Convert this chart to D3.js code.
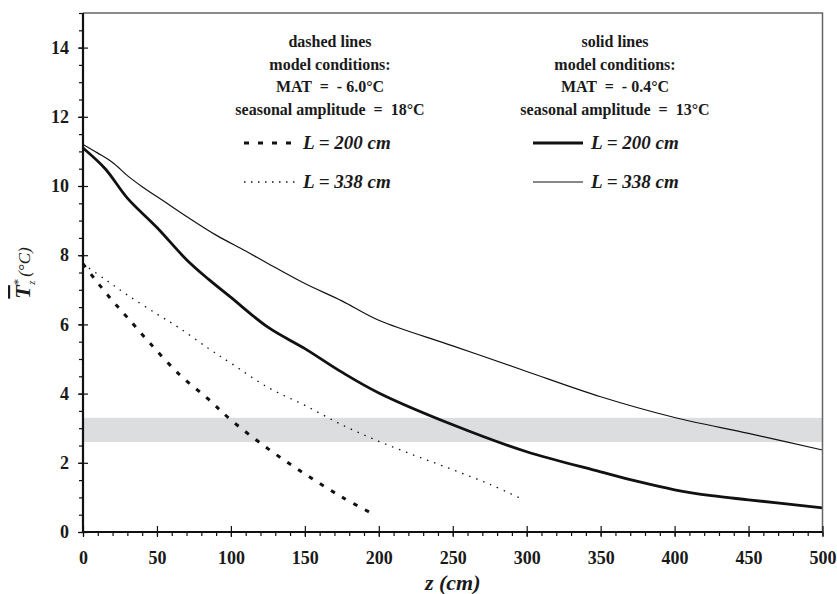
<!DOCTYPE html>
<html>
<head>
<meta charset="utf-8">
<script src="https://cdn.jsdelivr.net/npm/d3@7"></script>
<style>
body { margin: 0; background: #fff; }
text { font-family: "Liberation Serif", "Times New Roman", serif; fill: #1a1a1a; }
</style>
</head>
<body>
<svg id="chart" width="837" height="594"></svg>
<script>
// depth (cm) and mean temperature (°C)
var zSolid200 = [0, 15, 30, 50, 70, 85, 100, 125, 150, 175, 200, 250, 300, 350, 375, 400, 425, 450, 500];
var tSolid200 = [11.1, 10.5, 9.65, 8.8, 7.87, 7.3, 6.78, 5.92, 5.3, 4.62, 4.02, 3.1, 2.32, 1.74, 1.46, 1.22, 1.05, 0.93, 0.7];

var zSolid338 = [0, 10, 20, 30, 40, 55, 70, 90, 110, 125, 150, 175, 200, 250, 300, 350, 400, 450, 500];
var tSolid338 = [11.2, 10.95, 10.68, 10.3, 9.98, 9.55, 9.12, 8.58, 8.12, 7.76, 7.18, 6.68, 6.12, 5.38, 4.64, 3.91, 3.31, 2.85, 2.37];

var zDashed200 = [0, 10, 20, 30, 45, 65, 85, 100, 125, 150, 175, 197];
var tDashed200 = [7.75, 7.2, 6.68, 6.2, 5.47, 4.56, 3.83, 3.24, 2.41, 1.68, 1.01, 0.5];

var zDashed338 = [0, 15, 30, 50, 65, 85, 100, 125, 150, 175, 200, 225, 250, 275, 298];
var tDashed338 = [7.75, 7.3, 6.85, 6.3, 5.9, 5.3, 4.88, 4.18, 3.66, 3.1, 2.62, 2.2, 1.8, 1.38, 0.93];

var bandRange = [2.6, 3.3];
var xTicks = [0, 50, 100, 150, 200, 250, 300, 350, 400, 450, 500];
var yTicks = [0, 2, 4, 6, 8, 10, 12, 14];

var leftHeader = ['dashed lines', 'model conditions:', 'MAT  =  - 6.0°C', 'seasonal amplitude  =  18°C'];
var rightHeader = ['solid lines', 'model conditions:', 'MAT  =  - 0.4°C', 'seasonal amplitude  =  13°C'];
var legendLabels = ['L = 200 cm', 'L = 338 cm'];

var svg = d3.select('#chart');
var margin = {top: 13, right: 14.5, bottom: 62, left: 83};
var W = 837, H = 594;

var x = d3.scaleLinear().domain([0, 500]).range([margin.left, W - margin.right]);
var y = d3.scaleLinear().domain([0, 15]).range([H - margin.bottom, margin.top]);

// grey band
svg.append('rect')
	.attr('x', x(0))
	.attr('y', y(bandRange[1]))
	.attr('width', x(500) - x(0))
	.attr('height', y(bandRange[0]) - y(bandRange[1]))
	.attr('fill', '#dcdddf');

// curves
var series = [
	{z: zSolid338, t: tSolid338, w: 1.2, dash: null},
	{z: zSolid200, t: tSolid200, w: 2.8, dash: null},
	{z: zDashed338, t: tDashed338, w: 1.3, dash: '1.5,6'},
	{z: zDashed200, t: tDashed200, w: 3, dash: '4.5,8.5'}
];

var line = d3.line()
	.x(function (d) { return x(d[0]); })
	.y(function (d) { return y(d[1]); })
	.curve(d3.curveCatmullRom.alpha(0.5));

svg.selectAll('path.curve')
	.data(series)
	.enter().append('path')
	.attr('class', 'curve')
	.attr('d', function (s) { return line(d3.zip(s.z, s.t)); })
	.attr('fill', 'none')
	.attr('stroke', '#111')
	.attr('stroke-width', function (s) { return s.w; })
	.attr('stroke-dasharray', function (s) { return s.dash; });

// frame: thin top/right, heavy left/bottom
svg.append('path')
	.attr('d', 'M' + x(0) + ',' + y(15) + 'H' + x(500) + 'V' + y(0))
	.attr('fill', 'none')
	.attr('stroke', '#666')
	.attr('stroke-width', 1.5);

// minor ticks
var xMinor = d3.range(0, 501, 10);
var yMinor = d3.range(0, 15.01, 0.5);

svg.append('g')
	.attr('transform', 'translate(0,' + y(0) + ')')
	.call(d3.axisBottom(x).tickValues(xMinor).tickSize(4).tickFormat(''))
	.call(function (g) { g.select('.domain').remove(); });

svg.append('g')
	.attr('transform', 'translate(' + x(0) + ',0)')
	.call(d3.axisLeft(y).tickValues(yMinor).tickSize(4).tickFormat(''))
	.call(function (g) { g.select('.domain').remove(); });

// major ticks + labels
var gx = svg.append('g')
	.attr('transform', 'translate(0,' + y(0) + ')')
	.call(d3.axisBottom(x).tickValues(xTicks).tickSize(5).tickPadding(14));
gx.selectAll('.tick line').attr('y1', -6).attr('y2', 5);
gx.select('.domain').remove();

var gy = svg.append('g')
	.attr('transform', 'translate(' + x(0) + ',0)')
	.call(d3.axisLeft(y).tickValues(yTicks).tickSize(5).tickPadding(9));
gy.selectAll('.tick line').attr('x1', 5).attr('x2', -5);
gy.select('.domain').remove();

svg.selectAll('.tick line').attr('stroke', '#111').attr('stroke-width', 1.2);
svg.selectAll('.tick text')
	.attr('font-family', '"Liberation Serif", serif')
	.attr('font-size', 18)
	.attr('font-weight', 'bold')
	.attr('fill', '#1a1a1a');

// heavy axis lines
svg.append('path')
	.attr('d', 'M' + x(0) + ',' + y(15) + 'V' + y(0) + 'H' + x(500))
	.attr('fill', 'none')
	.attr('stroke', '#111')
	.attr('stroke-width', 2.2);

// axis titles
svg.append('text')
	.attr('x', (x(0) + x(500)) / 2)
	.attr('y', 590)
	.attr('text-anchor', 'middle')
	.attr('font-size', 22)
	.attr('font-weight', 'bold')
	.attr('font-style', 'italic')
	.text('z (cm)');

var yTitle = svg.append('text')
	.attr('transform', 'translate(30,273) rotate(-90)')
	.attr('text-anchor', 'middle');
yTitle.append('tspan')
	.attr('font-size', 22)
	.attr('font-weight', 'bold')
	.attr('font-style', 'italic')
	.style('text-decoration', 'overline')
	.text('T');
yTitle.append('tspan')
	.attr('font-size', 13)
	.attr('dy', -8)
	.text('*');
yTitle.append('tspan')
	.attr('font-size', 10)
	.attr('font-style', 'italic')
	.attr('dx', -6)
	.attr('dy', 13)
	.text('z');
yTitle.append('tspan')
	.attr('font-size', 17)
	.attr('font-style', 'italic')
	.attr('dx', 4)
	.attr('dy', -5)
	.text('(°C)');

// legend headers
function header(lines, cx) {
	svg.append('g').selectAll('text')
		.data(lines)
		.enter().append('text')
		.attr('x', cx)
		.attr('y', function (d, i) { return 47 + i * 22.5; })
		.attr('text-anchor', 'middle')
		.attr('font-size', 16)
		.attr('font-weight', 'bold')
		.style('white-space', 'pre')
		.text(function (d) { return d; });
}
header(leftHeader, 330);
header(rightHeader, 615);

// legend samples
var legendRows = [
	{x0: 244, x1: 295, y: 143, w: 3, dash: '5,9', label: legendLabels[0]},
	{x0: 244, x1: 295, y: 182, w: 1.3, dash: '1.5,5.5', label: legendLabels[1]},
	{x0: 533, x1: 583, y: 143, w: 2.8, dash: null, label: legendLabels[0]},
	{x0: 533, x1: 583, y: 182, w: 1.2, dash: null, label: legendLabels[1]}
];

var lg = svg.append('g').selectAll('g')
	.data(legendRows)
	.enter().append('g');
lg.append('line')
	.attr('x1', function (d) { return d.x0; })
	.attr('x2', function (d) { return d.x1; })
	.attr('y1', function (d) { return d.y; })
	.attr('y2', function (d) { return d.y; })
	.attr('stroke', '#111')
	.attr('stroke-width', function (d) { return d.w; })
	.attr('stroke-dasharray', function (d) { return d.dash; });
lg.append('text')
	.attr('x', function (d) { return d.x1 + 8; })
	.attr('y', function (d) { return d.y + 6; })
	.attr('font-size', 19)
	.attr('font-weight', 'bold')
	.attr('font-style', 'italic')
	.text(function (d) { return d.label; });
</script>
</body>
</html>
